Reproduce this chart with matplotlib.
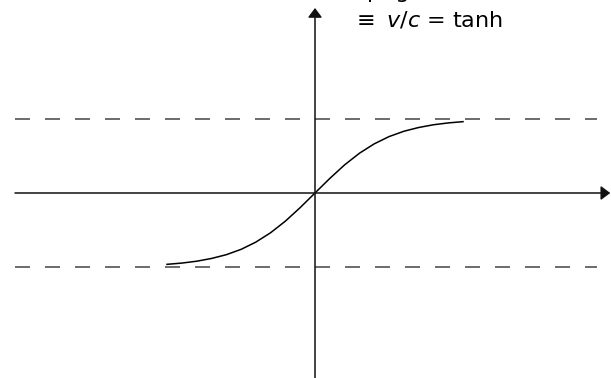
import numpy as np
import matplotlib.pyplot as plt

# courbe (x en unités, y = vitesse normalisée)
curve_x = [-2.0, -1.8, -1.6, -1.4, -1.2, -1.0, -0.8, -0.6, -0.4, -0.2, 0.0,
           0.2, 0.4, 0.6, 0.8, 1.0, 1.2, 1.4, 1.6, 1.8, 2.0]
curve_y = [-0.964, -0.947, -0.922, -0.885, -0.834, -0.762, -0.664, -0.537, -0.380, -0.197, 0.0,
           0.197, 0.380, 0.537, 0.664, 0.762, 0.834, 0.885, 0.922, 0.947, 0.964]
asymptotes = [1.0, -1.0]
label_top = "p  g"
label_bottom = r"$\equiv$ $\mathit{v/c}$ = tanh"

plt.rcParams['lines.scale_dashes'] = False
plt.rcParams['mathtext.fontset'] = 'dejavusans'

fig = plt.figure(figsize=(6.11, 3.78), dpi=100)
ax = fig.add_axes([0, 0, 1, 1])
ax.set_xlim(-315 / 74, 296 / 74)
ax.set_ylim(-185 / 74, 193 / 74)
ax.axis('off')

# asymptotes en tirets
for a in asymptotes:
    ax.plot([-4.054, 3.81], [a, a], color='#444444', lw=1.1, dashes=(10.8, 10.8))

# axes avec flèches
ax.annotate('', xy=(3.99, 0), xytext=(-4.054, 0),
            arrowprops=dict(arrowstyle='-|>,head_width=0.3', color='#111111', lw=1.1,
                            mutation_scale=14, shrinkA=0, shrinkB=0))
ax.annotate('', xy=(0, 2.5), xytext=(0, -2.6),
            arrowprops=dict(arrowstyle='-|>,head_width=0.3', color='#111111', lw=1.1,
                            mutation_scale=14, shrinkA=0, shrinkB=0))

# la courbe
ax.plot(curve_x, curve_y, color='k', lw=1.1)

ax.text(0.7, 193 / 74 + 2 / 74, label_top, fontsize=16, va='baseline', ha='left')
ax.text(0.5, (193 - 27) / 74, label_bottom, fontsize=16, va='baseline', ha='left')

fig.savefig('out.png', dpi=100)
